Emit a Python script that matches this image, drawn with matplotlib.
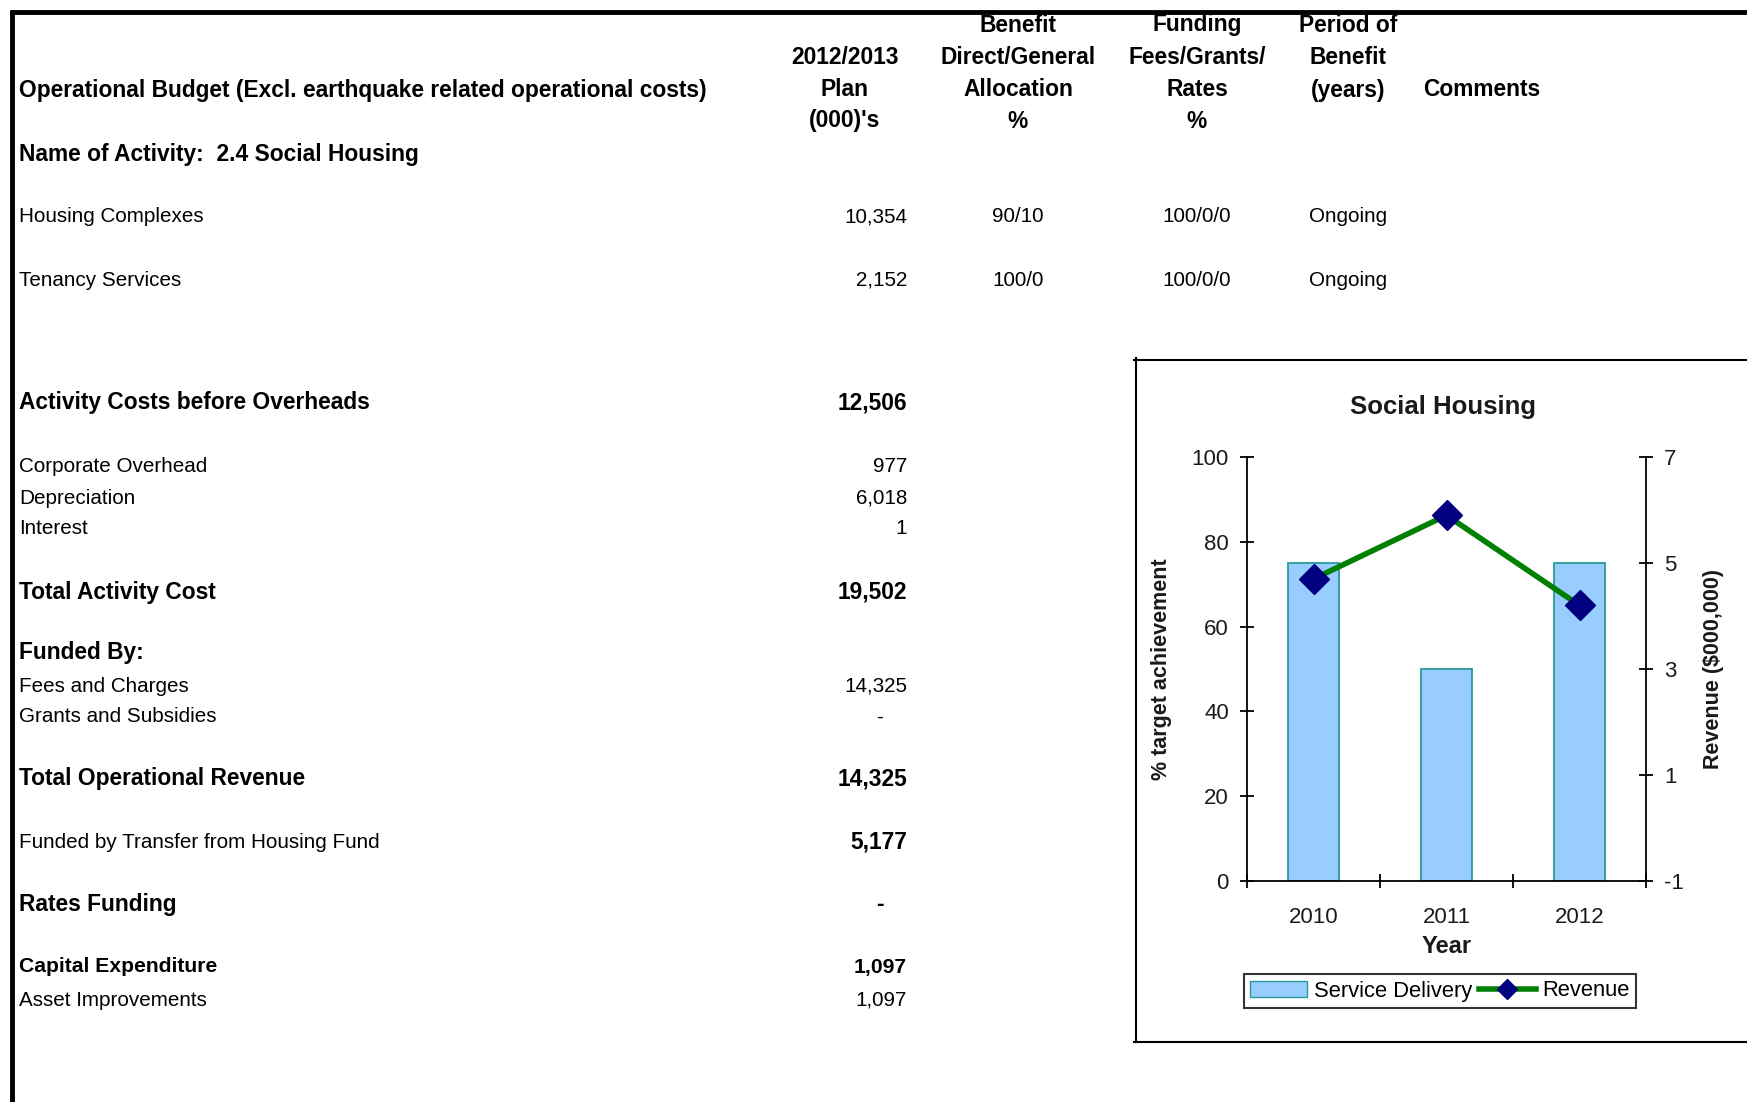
import matplotlib
matplotlib.use("Agg")
import matplotlib.pyplot as plt
from matplotlib.lines import Line2D
from matplotlib.patches import Patch

plt.rcParams["axes.unicode_minus"] = False

# table data
row_labels = ["Housing Complexes", "Tenancy Services", "Activity Costs before Overheads",
              "Corporate Overhead", "Depreciation", "Interest", "Total Activity Cost",
              "Funded By:", "Fees and Charges", "Grants and Subsidies",
              "Total Operational Revenue", "Funded by Transfer from Housing Fund",
              "Rates Funding", "Capital Expenditure", "Asset Improvements"]
plan_values = ["10,354", "2,152", "12,506", "977", "6,018", "1", "19,502", "",
               "14,325", "-", "14,325", "5,177", "-", "1,097", "1,097"]
allocation = ["90/10", "100/0"]
funding = ["100/0/0", "100/0/0"]
period = ["Ongoing", "Ongoing"]

# chart data
years = ["2010", "2011", "2012"]
service_delivery = [75, 50, 75]
revenue = [4.7, 5.9, 4.2]

# layout (pixel coords of the 1747x1102 image)
row_y = [217, 280, 403, 467, 498, 529, 592, 653, 686, 717, 779, 842, 904, 967, 1000]
label_bold = [0, 0, 1, 0, 0, 0, 1, 1, 0, 0, 1, 0, 1, 1, 0]
value_bold = [0, 0, 1, 0, 0, 0, 1, 0, 0, 0, 1, 1, 1, 1, 0]

font = ["Liberation Sans", "DejaVu Sans"]
FS_B = 16.4
FS_N = 14.9

W, H = 1747, 1102
fig = plt.figure(figsize=(W / 100, H / 100), dpi=100)
bg = fig.add_axes([0, 0, 1, 1])
bg.set_xlim(0, W)
bg.set_ylim(H, 0)
bg.axis("off")

# outer borders
bg.plot([10, W], [12, 12], color="black", lw=3.5, solid_capstyle="butt")
bg.plot([12, 12], [10, H], color="black", lw=3.5, solid_capstyle="butt")

# header
bg.text(19, 90, "Operational Budget (Excl. earthquake related operational costs)",
        family=font, weight="bold", fontsize=FS_B, va="center", ha="left")
bg.text(19, 154, "Name of Activity:  2.4 Social Housing",
        family=font, weight="bold", fontsize=FS_B, va="center", ha="left")
headers = [(845, ["", "2012/2013", "Plan", "(000)'s"]),
           (1018, ["Benefit", "Direct/General", "Allocation", "%"]),
           (1197, ["Funding", "Fees/Grants/", "Rates", "%"]),
           (1348, ["Period of", "Benefit", "(years)", ""]),
           (1482, ["", "", "Comments", ""])]
hy = [25, 58, 90, 121]
for cx, lines in headers:
    for txt, yy in zip(lines, hy):
        if txt:
            bg.text(cx, yy, txt, family=font, weight="bold", fontsize=FS_B,
                    ha="center", va="center")

for i, (lab, val) in enumerate(zip(row_labels, plan_values)):
    fs_l = FS_B if label_bold[i] else FS_N
    fs_v = FS_B if value_bold[i] else FS_N
    if i == 13:
        fs_l = fs_v = 15.2
    bg.text(19, row_y[i], lab, family=font, weight="bold" if label_bold[i] else "normal",
            fontsize=fs_l, va="center", ha="left")
    if val == "-":
        bg.text(880, row_y[i], val, family=font, weight="bold" if value_bold[i] else "normal",
                fontsize=fs_v, va="center", ha="center")
    elif val:
        bg.text(907, row_y[i], val, family=font, weight="bold" if value_bold[i] else "normal",
                fontsize=fs_v, va="center", ha="right")

for i in range(2):
    bg.text(1018, row_y[i], allocation[i], family=font, fontsize=FS_N, ha="center", va="center")
    bg.text(1197, row_y[i], funding[i], family=font, fontsize=FS_N, ha="center", va="center")
    bg.text(1348, row_y[i], period[i], family=font, fontsize=FS_N, ha="center", va="center")

# chart frame
bg.plot([1134, W], [360, 360], color="black", lw=1.5)
bg.plot([1136, 1136], [358, 1042], color="black", lw=1.5)
bg.plot([1134, W], [1042, 1042], color="black", lw=1.5)
bg.text(1443, 407, "Social Housing", family=font, weight="bold", fontsize=18.5,
        ha="center", va="center", color="#1a1a1a")

# chart
x0, x1, y0, y1 = 1247, 1646, 457, 881
ax = fig.add_axes([x0 / W, 1 - y1 / H, (x1 - x0) / W, (y1 - y0) / H])
ax.set_facecolor("none")
xs = list(range(len(years)))
ax.bar(xs, service_delivery, width=0.39, color="#99ccff", edgecolor="#2a9a9a", lw=1.3, zorder=2)
ax.set_xlim(-0.5, 2.5)
ax.set_ylim(0, 100)
ax.set_yticks([0, 20, 40, 60, 80, 100])
ax.set_xticks(xs)
ax.set_xticklabels(years)
ax.set_xticks([-0.5, 0.5, 1.5, 2.5], minor=True)
ax.tick_params(axis="x", which="major", length=0, pad=19)
ax.tick_params(axis="x", which="minor", length=10, direction="inout", width=1.3)
ax.tick_params(axis="y", length=10, direction="inout", width=1.3, pad=8)
for lab in ax.get_xticklabels() + ax.get_yticklabels():
    lab.set_family(font)
    lab.set_fontsize(16)
    lab.set_color("#1a1a1a")
ax.spines["top"].set_visible(False)
ax.spines["right"].set_visible(False)
ax.spines["left"].set_linewidth(1.3)
ax.spines["bottom"].set_linewidth(1.3)
ax.set_xlabel("Year", family=font, weight="bold", fontsize=17, labelpad=5, color="#1a1a1a")
ax.set_ylabel("% target achievement", family=font, weight="heavy", fontsize=15.5,
              labelpad=14, color="#1a1a1a")

ax2 = ax.twinx()
ax2.plot(xs, revenue, color="#008000", lw=4, marker="D", markersize=15,
         markerfacecolor="#000080", markeredgecolor="#000080", zorder=3)
ax2.set_ylim(-1, 7)
ax2.set_yticks([-1, 1, 3, 5, 7])
ax2.tick_params(axis="y", length=10, direction="inout", width=1.3, pad=8)
for lab in ax2.get_yticklabels():
    lab.set_family(font)
    lab.set_fontsize(16)
    lab.set_color("#1a1a1a")
for s in ["top", "left", "bottom"]:
    ax2.spines[s].set_visible(False)
ax2.spines["right"].set_linewidth(1.3)
ax2.set_ylabel("Revenue ($000,000)", family=font, weight="heavy", fontsize=15.5,
               labelpad=14, color="#1a1a1a")

handles = [Patch(facecolor="#99ccff", edgecolor="#2a9a9a", label="Service Delivery"),
           Line2D([0], [0], color="#008000", lw=4, marker="D", markersize=10,
                  markerfacecolor="#000080", markeredgecolor="#000080", label="Revenue")]
leg = fig.legend(handles=handles, loc="center", bbox_to_anchor=(1440 / W, 1 - 991 / H),
                 ncol=2, frameon=True, fancybox=False, edgecolor="black",
                 prop={"family": font, "size": 15.8}, handlelength=2.6,
                 columnspacing=0.3, handletextpad=0.3, borderpad=0.3)
leg.get_frame().set_linewidth(1.5)

fig.savefig("out.png", dpi=100)
